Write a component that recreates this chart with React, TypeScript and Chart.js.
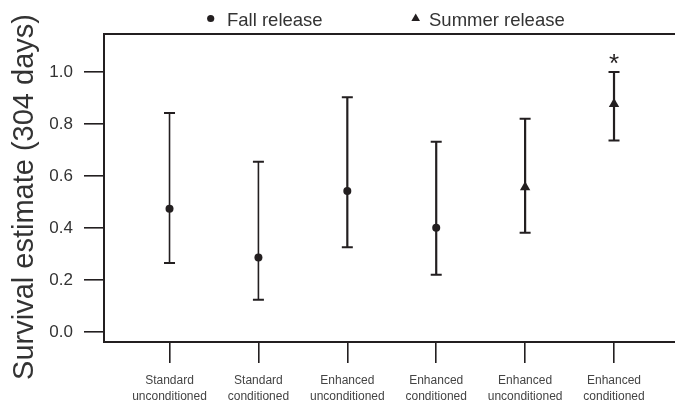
import React, { useEffect, useRef } from 'react';
import { Chart, registerables } from 'chart.js';

Chart.register(...registerables);

// ---------- data ----------
const categories: string[][] = [
  ['Standard', 'unconditioned'],
  ['Standard', 'conditioned'],
  ['Enhanced', 'unconditioned'],
  ['Enhanced', 'conditioned'],
  ['Enhanced', 'unconditioned'],
  ['Enhanced', 'conditioned'],
];
const categoryPositions = [1, 2, 3, 4, 5, 6];

const fallPositions = [1, 2, 3, 4];
const fallEstimate = [0.474, 0.286, 0.542, 0.401];
const fallLower = [0.265, 0.124, 0.326, 0.22];
const fallUpper = [0.842, 0.655, 0.903, 0.732];

const summerPositions = [5, 6];
const summerEstimate = [0.557, 0.877];
const summerLower = [0.382, 0.736];
const summerUpper = [0.82, 1.0];
const summerSignificant = [false, true];

const yTickValues = [0, 0.2, 0.4, 0.6, 0.8, 1.0];
const yRange = [-0.0385, 1.146];
const xRange = [0.263, 6.686];

const legendLabels = ['Fall release', 'Summer release'];
const yTitle = 'Survival estimate (304 days)';

// ---------- styling ----------
const FONT = "'Liberation Sans', Arial, Helvetica, sans-serif";
const INK = '#231f20';
const TEXT = '#333333';

const errorBarPlugin = {
  id: 'errorBars',
  beforeDatasetsDraw(chart: any) {
    const { ctx, scales } = chart;
    const x = scales.x;
    const y = scales.y;
    chart.data.datasets.forEach((ds: any) => {
      ds.data.forEach((pt: any, i: number) => {
        const px = x.getPixelForValue(pt.x);
        const yl = y.getPixelForValue(ds.lower[i]);
        const yu = y.getPixelForValue(ds.upper[i]);
        const cap = 5.5;
        ctx.save();
        ctx.strokeStyle = INK;
        ctx.lineWidth = ds.errorWidths[i];
        ctx.beginPath();
        ctx.moveTo(px, yl);
        ctx.lineTo(px, yu);
        ctx.stroke();
        ctx.lineWidth = 2;
        ctx.beginPath();
        ctx.moveTo(px - cap, yl);
        ctx.lineTo(px + cap, yl);
        ctx.moveTo(px - cap, yu);
        ctx.lineTo(px + cap, yu);
        ctx.stroke();
        if (ds.significant && ds.significant[i]) {
          ctx.fillStyle = INK;
          ctx.font = `26px ${FONT}`;
          ctx.textAlign = 'center';
          ctx.textBaseline = 'alphabetic';
          const m = ctx.measureText('*');
          const centerY = yu - 13;
          const baseY = centerY + (m.actualBoundingBoxAscent - m.actualBoundingBoxDescent) / 2;
          ctx.fillText('*', px, baseY);
        }
        ctx.restore();
      });
    });
  },
  afterDraw(chart: any) {
    const { ctx, chartArea } = chart;
    ctx.save();
    // top frame line
    ctx.strokeStyle = INK;
    ctx.lineWidth = 2;
    ctx.beginPath();
    ctx.moveTo(chartArea.left - 1, chartArea.top);
    ctx.lineTo(chartArea.right, chartArea.top);
    ctx.stroke();

    // legend
    ctx.fillStyle = INK;
    ctx.beginPath();
    ctx.arc(210.7, 18.5, 3.6, 0, Math.PI * 2);
    ctx.fill();
    const tx = 415.7, ty = 18.5, tr = 5;
    ctx.beginPath();
    ctx.moveTo(tx, ty - tr);
    ctx.lineTo(tx + tr * Math.sin((2 * Math.PI) / 3), ty + tr / 2);
    ctx.lineTo(tx - tr * Math.sin((2 * Math.PI) / 3), ty + tr / 2);
    ctx.closePath();
    ctx.fill();
    ctx.fillStyle = TEXT;
    ctx.font = `18.5px ${FONT}`;
    ctx.textAlign = 'left';
    ctx.textBaseline = 'alphabetic';
    ctx.fillText(legendLabels[0], 227, 25.5);
    ctx.fillText(legendLabels[1], 429, 25.5);

    // y-axis title
    ctx.font = `29px ${FONT}`;
    ctx.textAlign = 'center';
    ctx.textBaseline = 'alphabetic';
    ctx.translate(33, 197);
    ctx.rotate(-Math.PI / 2);
    ctx.fillText(yTitle, 0, 0);
    ctx.restore();
  },
};

export default function App() {
  const canvasRef = useRef<HTMLCanvasElement | null>(null);

  useEffect(() => {
    document.body.style.margin = '0';
    const canvas = canvasRef.current;
    if (!canvas) return;
    const chart = new Chart(canvas, {
      type: 'scatter',
      data: {
        datasets: [
          {
            label: legendLabels[0],
            data: fallPositions.map((p, i) => ({ x: p, y: fallEstimate[i] })),
            lower: fallLower,
            upper: fallUpper,
            errorWidths: [1.6, 1.6, 2.2, 2.2],
            pointStyle: 'circle',
            pointRadius: 4,
            pointHoverRadius: 4,
            pointBackgroundColor: INK,
            pointBorderWidth: 0,
            borderColor: INK,
            backgroundColor: INK,
          } as any,
          {
            label: legendLabels[1],
            data: summerPositions.map((p, i) => ({ x: p, y: summerEstimate[i] })),
            lower: summerLower,
            upper: summerUpper,
            significant: summerSignificant,
            errorWidths: [2.2, 2.2],
            pointStyle: 'triangle',
            pointRadius: 6,
            pointHoverRadius: 6,
            pointBackgroundColor: INK,
            pointBorderWidth: 0,
            borderColor: INK,
            backgroundColor: INK,
          } as any,
        ],
      },
      options: {
        responsive: false,
        animation: false,
        devicePixelRatio: 1,
        layout: { autoPadding: false, padding: { top: 34, left: 0, right: 0, bottom: 0 } },
        plugins: {
          legend: { display: false },
          tooltip: { enabled: false },
          title: { display: false },
        },
        scales: {
          x: {
            type: 'linear',
            position: 'bottom',
            min: xRange[0],
            max: xRange[1],
            afterBuildTicks: (scale: any) => {
              scale.ticks = categoryPositions.map((v) => ({ value: v }));
            },
            afterFit: (scale: any) => {
              scale.height = 62;
              scale.paddingLeft = 0;
              scale.paddingRight = 0;
            },
            ticks: {
              autoSkip: false,
              maxRotation: 0,
              minRotation: 0,
              padding: 9,
              color: '#444444',
              font: { family: FONT, size: 12, lineHeight: 1.375 },
              callback: (value: any) => categories[Math.round(Number(value)) - 1],
            },
            grid: {
              display: true,
              drawOnChartArea: false,
              drawTicks: true,
              tickLength: 21,
              color: INK,
              lineWidth: 1.6,
            },
            border: { display: true, color: INK, width: 2 },
          },
          y: {
            type: 'linear',
            min: yRange[0],
            max: yRange[1],
            afterBuildTicks: (scale: any) => {
              scale.ticks = yTickValues.map((v) => ({ value: v }));
            },
            afterFit: (scale: any) => {
              scale.width = 104;
              scale.paddingTop = 0;
              scale.paddingBottom = 0;
            },
            ticks: {
              padding: 11,
              color: TEXT,
              font: { family: FONT, size: 17 },
              callback: (value: any) => Number(value).toFixed(1),
            },
            grid: {
              display: true,
              drawOnChartArea: false,
              drawTicks: true,
              tickLength: 20,
              color: INK,
              lineWidth: 1.6,
            },
            border: { display: true, color: INK, width: 2 },
          },
        },
      },
      plugins: [errorBarPlugin],
    });
    return () => chart.destroy();
  }, []);

  return (
    <div style={{ width: 675, height: 404 }}>
      <canvas ref={canvasRef} width={675} height={404} style={{ display: 'block' }} />
    </div>
  );
}
